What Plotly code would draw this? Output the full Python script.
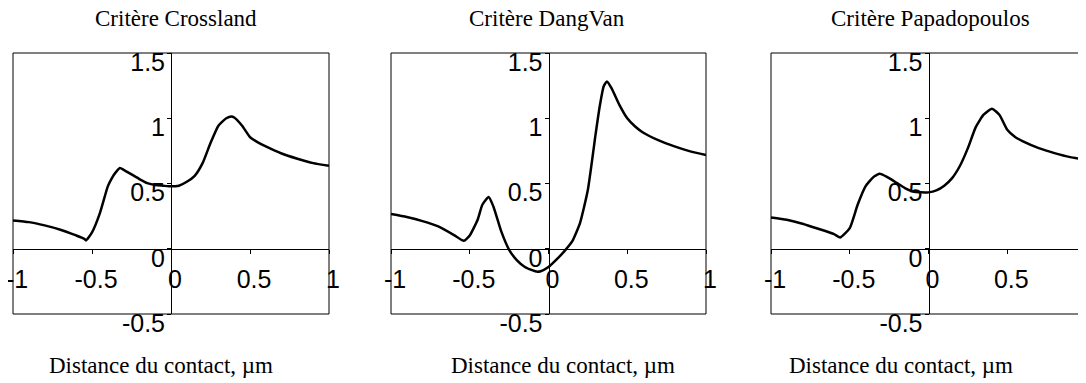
import plotly.graph_objects as go

# values
titles = ["Critère Crossland", "Critère DangVan", "Critère Papadopoulos"]
xlabel = "Distance du contact, µm"

x_tickvals = [-1, -0.5, 0, 0.5, 1]
x_ticktext = ["-1", "-0.5", "0", "0.5", "1"]
y_tickvals = [-0.5, 0, 0.5, 1, 1.5]
y_ticktext = ["-0.5", "0", "0.5", "1", "1.5"]

crossland_x = [-1.0, -0.9, -0.8, -0.7, -0.6, -0.55, -0.538, -0.5, -0.45, -0.4, -0.375, -0.35,
               -0.323, -0.3, -0.25, -0.2, -0.15, -0.1, -0.05, 0.0, 0.05, 0.1, 0.15, 0.2, 0.25,
               0.3, 0.35, 0.382, 0.4, 0.45, 0.5, 0.55, 0.6, 0.7, 0.8, 0.9, 1.0]
crossland_y = [0.217, 0.204, 0.179, 0.146, 0.102, 0.077, 0.064, 0.125, 0.273, 0.478, 0.54, 0.585,
               0.618, 0.605, 0.57, 0.534, 0.503, 0.488, 0.483, 0.478, 0.483, 0.513, 0.559, 0.656, 0.81,
               0.943, 1.0, 1.014, 1.006, 0.943, 0.856, 0.815, 0.784, 0.73, 0.69, 0.656, 0.636]

dangvan_x = [-1.0, -0.9, -0.8, -0.7, -0.6, -0.538, -0.5, -0.45, -0.42, -0.38, -0.35, -0.3,
             -0.25, -0.2, -0.15, -0.1, -0.076, -0.05, 0.0, 0.05, 0.1, 0.15, 0.2, 0.25, 0.3,
             0.325, 0.35, 0.371, 0.4, 0.45, 0.5, 0.55, 0.6, 0.7, 0.8, 0.9, 1.0]
dangvan_y = [0.266, 0.243, 0.212, 0.171, 0.105, 0.061, 0.102, 0.222, 0.337, 0.396, 0.324, 0.133,
             -0.008, -0.089, -0.14, -0.166, -0.175, -0.172, -0.14, -0.084, -0.02, 0.056, 0.197, 0.452, 0.886,
             1.09, 1.244, 1.282, 1.231, 1.103, 1.0, 0.937, 0.891, 0.83, 0.784, 0.746, 0.718]

papa_x = [-1.0, -0.9, -0.8, -0.7, -0.6, -0.56, -0.5, -0.45, -0.4, -0.35, -0.312, -0.3,
          -0.25, -0.2, -0.15, -0.1, -0.05, 0.0, 0.05, 0.1, 0.15, 0.2, 0.25, 0.3, 0.35,
          0.403, 0.45, 0.5, 0.55, 0.6, 0.7, 0.8, 0.9, 1.0]
papa_y = [0.24, 0.222, 0.192, 0.153, 0.112, 0.087, 0.158, 0.337, 0.478, 0.549, 0.575, 0.572,
          0.541, 0.503, 0.465, 0.439, 0.432, 0.432, 0.447, 0.483, 0.541, 0.636, 0.771, 0.932, 1.027,
          1.073, 1.027, 0.912, 0.856, 0.822, 0.771, 0.733, 0.702, 0.682]

curves = [(crossland_x, crossland_y), (dangvan_x, dangvan_y), (papa_x, papa_y)]

# %%
# the page body adds an 8px margin, so the figure is drawn 8px in from the corner
OFF = 8
W, H = 1086 - OFF, 383 - OFF
# panel boxes in screen pixels (left, right), top/bottom shared
px_boxes = [(13, 329), (391, 706), (771, 1086)]
top_px, bot_px = 53, 314
title_cx = [176, 547, 930]
label_cx = [161, 563, 901]
title_cy, label_cy = 19, 365

serif = "Times New Roman, Liberation Serif, serif"
sans = "Arial, Liberation Sans, sans-serif"

y_dom = [(H - (bot_px - OFF)) / H, (H - (top_px - OFF)) / H]
y0_pos = y_dom[0] + 0.25 * (y_dom[1] - y_dom[0])  # where y=0 sits in paper coords

fig = go.Figure()
shapes = []
annotations = []
for i, (xs, ys) in enumerate(curves):
    n = "" if i == 0 else str(i + 1)
    x_dom = [(px_boxes[i][0] - OFF) / W, min(1.0, (px_boxes[i][1] - OFF) / W)]
    fig.add_trace(go.Scatter(
        x=xs, y=ys, mode="lines", xaxis="x" + n, yaxis="y" + n,
        line=dict(color="black", width=2.5, shape="spline", smoothing=0.5),
        showlegend=False, hoverinfo="skip",
    ))
    fig.layout["xaxis" + n] = dict(
        domain=x_dom, range=[-1, 1], anchor="free", position=y0_pos, automargin=False,
        showline=True, linecolor="black", linewidth=1, showgrid=False, zeroline=False,
        ticks="outside", ticklen=4, tickcolor="black", tickwidth=1,
        tickvals=x_tickvals, ticktext=x_ticktext,
        tickfont=dict(family=sans, size=25, color="black"),
        ticklabelstandoff=4, ticklabelshift=4, ticklabeloverflow="allow",
    )
    fig.layout["yaxis" + n] = dict(
        domain=y_dom, range=[-0.5, 1.5], anchor="free", automargin=False,
        position=(x_dom[0] + x_dom[1]) / 2,
        showline=True, linecolor="black", linewidth=1, showgrid=False, zeroline=False,
        ticks="outside", ticklen=4, tickcolor="black", tickwidth=1,
        tickvals=y_tickvals, ticktext=y_ticktext,
        tickfont=dict(family=sans, size=25, color="black"),
        ticklabelshift=9, ticklabelstandoff=-3, ticklabeloverflow="allow",
    )
    # frame round each panel
    shapes.append(dict(type="rect", xref="x" + n + " domain", yref="y" + n + " domain",
                       x0=0, x1=1, y0=0, y1=1, line=dict(color="black", width=1)))
    annotations.append(dict(text=titles[i], x=(title_cx[i] - OFF) / W, y=1 - (title_cy - OFF) / H,
                            xref="paper", yref="paper", showarrow=False,
                            xanchor="center", yanchor="middle",
                            font=dict(family=serif, size=23, color="black")))
    annotations.append(dict(text=xlabel, x=(label_cx[i] - OFF) / W, y=1 - (label_cy - OFF) / H,
                            xref="paper", yref="paper", showarrow=False,
                            xanchor="center", yanchor="middle",
                            font=dict(family=serif, size=23, color="black")))

fig.update_layout(
    width=W, height=H,
    margin=dict(l=0, r=0, t=0, b=0, autoexpand=False),
    paper_bgcolor="white", plot_bgcolor="white",
    shapes=shapes, annotations=annotations,
)

fig.write_html("out.html")
